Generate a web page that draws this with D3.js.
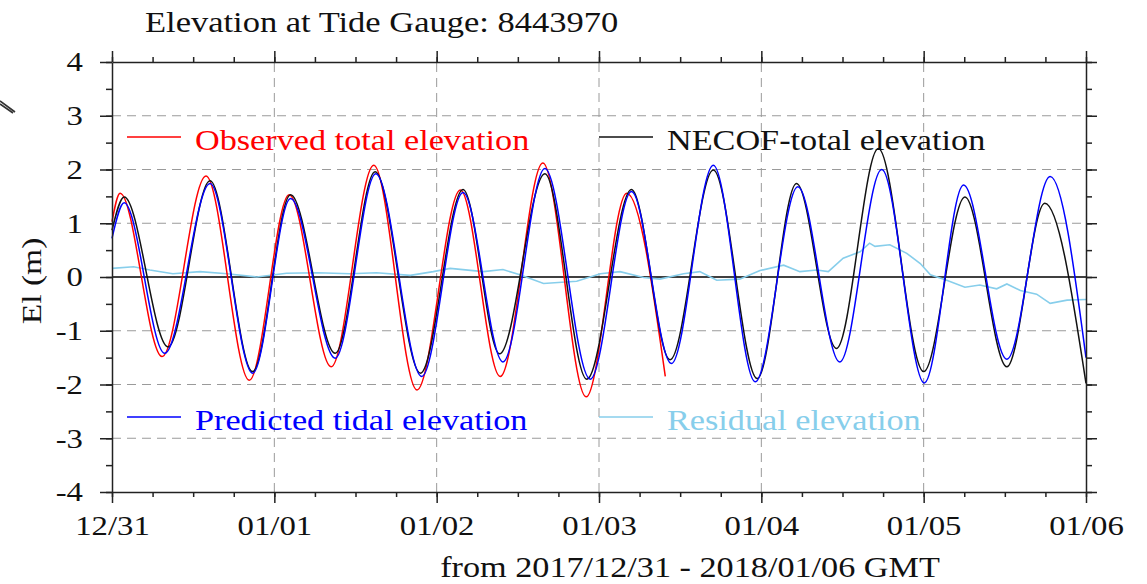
<!DOCTYPE html>
<html>
<head>
<meta charset="utf-8">
<script src="https://cdn.jsdelivr.net/npm/d3@7"></script>
<style>
  body { margin: 0; background: #fff; }
  svg { display: block; font-family: "Liberation Serif", "DejaVu Serif", serif; }
</style>
</head>
<body>
<svg id="chart" width="1147" height="584"></svg>
<script>
// hours since 2017-12-31 00:00 GMT, and elevation (m)
const obsHours  = [0, 1.2, 7.4, 13.9, 20.3, 26.2, 32.4, 38.7, 45.1, 51.5, 57.4, 63.7, 70.1, 76.1, 81.8];
const obsElev   = [1.03, 1.56, -1.48, 1.88, -1.92, 1.53, -1.67, 2.08, -2.10, 1.62, -1.85, 2.12, -2.23, 1.56, -1.85];

const modHours  = [0, 1.8, 8.3, 14.5, 20.8, 26.4, 33.0, 38.9, 45.6, 51.9, 57.3, 64.0, 70.2, 76.8, 82.5, 88.9, 95.4, 101.2, 107.1, 113.3, 120.0, 126.1, 132.3, 137.9, 144];
const modElev   = [0.87, 1.49, -1.30, 1.79, -1.76, 1.53, -1.42, 1.96, -1.79, 1.63, -1.43, 1.92, -1.90, 1.63, -1.54, 1.99, -1.89, 1.74, -1.33, 2.39, -1.76, 1.49, -1.67, 1.37, -1.98];

const predHours = [0, 1.8, 7.8, 14.5, 20.8, 26.4, 33.0, 39.0, 45.8, 51.9, 57.8, 64.0, 70.7, 76.8, 82.7, 88.9, 95.1, 101.4, 107.6, 113.8, 120.1, 125.9, 132.3, 138.7, 144];
const predElev  = [0.72, 1.38, -1.42, 1.74, -1.79, 1.46, -1.51, 1.92, -1.85, 1.57, -1.58, 2.02, -1.90, 1.59, -1.61, 2.08, -1.95, 1.68, -1.58, 2.00, -1.97, 1.71, -1.53, 1.87, -1.50];

const resHours  = [0, 3.2, 5.6, 9.0, 13.0, 17.0, 21.4, 25.8, 30.3, 35.2, 39.1, 44.1, 47.5, 50.0, 54.9, 57.8, 60.3, 63.8, 68.7, 72.2, 75.1, 78.6, 81.0, 84.5, 86.9, 89.4, 92.8, 95.8, 99.3, 101.7, 104.2, 105.9, 108.1, 110.6, 112.0, 112.8, 115.0, 117.5, 119.5, 121.0, 123.4, 126.1, 128.3, 130.8, 132.3, 134.3, 136.7, 138.7, 141.2, 144];
const resElev   = [0.16, 0.19, 0.13, 0.06, 0.10, 0.06, 0.00, 0.07, 0.08, 0.06, 0.08, 0.03, 0.10, 0.16, 0.10, 0.14, 0.04, -0.12, -0.08, 0.06, 0.10, -0.01, -0.04, 0.06, 0.10, -0.06, -0.04, 0.12, 0.22, 0.10, 0.13, 0.10, 0.35, 0.47, 0.63, 0.57, 0.60, 0.44, 0.25, 0.04, -0.06, -0.19, -0.15, -0.22, -0.13, -0.25, -0.32, -0.49, -0.43, -0.42];

const yTicks = [-4, -3, -2, -1, 0, 1, 2, 3, 4];

const width = 1147, height = 584;
const margin = { top: 62, right: 61, bottom: 92, left: 112 };
const t0 = Date.UTC(2017, 11, 31);
const toDate = h => new Date(t0 + h * 3600e3);
const SX = 1.17; // the plot font runs wider than Liberation Serif

const svg = d3.select("#chart");

const x = d3.scaleUtc()
    .domain([toDate(0), toDate(144)])
    .range([margin.left, width - margin.right]);
const y = d3.scaleLinear()
    .domain([-4, 4])
    .range([height - margin.bottom, margin.top]);

// --- grid ---
const days = d3.utcDay.range(toDate(24), toDate(121));
const grid = svg.append("g").attr("stroke", "#9a9a9a").attr("stroke-dasharray", "9,6").attr("stroke-width", 1);
grid.selectAll(".vg").data(days).join("line")
    .attr("x1", d => x(d)).attr("x2", d => x(d))
    .attr("y1", y(-4)).attr("y2", y(4));
grid.selectAll(".hg").data(yTicks.filter(v => v !== 0 && Math.abs(v) < 4)).join("line")
    .attr("x1", x.range()[0]).attr("x2", x.range()[1])
    .attr("y1", d => y(d)).attr("y2", d => y(d));

// zero line
svg.append("line")
    .attr("x1", x.range()[0]).attr("x2", x.range()[1])
    .attr("y1", y(0)).attr("y2", y(0))
    .attr("stroke", "#000").attr("stroke-width", 1.3);

// --- series ---
const toPts = (hs, vs) => hs.map((h, i) => [toDate(h), vs[i]]);
const smooth = d3.line().x(d => x(d[0])).y(d => y(d[1])).curve(d3.curveMonotoneX);
const jagged = d3.line().x(d => x(d[0])).y(d => y(d[1]));

svg.append("path").datum(toPts(resHours, resElev))
    .attr("d", jagged).attr("fill", "none").attr("stroke", "#87ceeb").attr("stroke-width", 1.6);
svg.append("path").datum(toPts(obsHours, obsElev))
    .attr("d", smooth).attr("fill", "none").attr("stroke", "#ff0000").attr("stroke-width", 1.5);
svg.append("path").datum(toPts(modHours, modElev))
    .attr("d", smooth).attr("fill", "none").attr("stroke", "#111").attr("stroke-width", 1.5);
svg.append("path").datum(toPts(predHours, predElev))
    .attr("d", smooth).attr("fill", "none").attr("stroke", "#0000ff").attr("stroke-width", 1.5);

// --- axes ---
const minorX = d3.utcHour.every(6).range(toDate(0), toDate(144.1));
const minorY = d3.range(-4, 4.01, 0.5);

function styleAxis(g) {
    g.select(".domain").attr("stroke", "#222").attr("stroke-width", 1.5);
    g.selectAll(".tick line").attr("stroke", "#222").attr("stroke-width", 1.5);
    g.selectAll(".tick text").attr("font-size", "28px").attr("fill", "#111")
        .attr("font-family", "Liberation Serif, serif");
}

const axBottom = svg.append("g").attr("transform", `translate(0,${y(-4)})`);
axBottom.call(d3.axisBottom(x).tickValues(minorX).tickSize(5).tickFormat("").tickSizeOuter(0)).call(styleAxis);
axBottom.append("g").call(d3.axisBottom(x).ticks(d3.utcDay.every(1)).tickSize(11)
    .tickFormat(d3.utcFormat("%m/%d")).tickPadding(12).tickSizeOuter(0))
    .call(styleAxis).call(g => g.select(".domain").remove())
    .call(g => g.selectAll(".tick text").attr("transform", `scale(${SX},1)`));

const axTop = svg.append("g").attr("transform", `translate(0,${y(4)})`);
axTop.call(d3.axisTop(x).tickValues(minorX).tickSize(5).tickFormat("").tickSizeOuter(0)).call(styleAxis);
axTop.append("g").call(d3.axisTop(x).ticks(d3.utcDay.every(1)).tickSize(11).tickFormat("").tickSizeOuter(0))
    .call(styleAxis).call(g => g.select(".domain").remove());

const axLeft = svg.append("g").attr("transform", `translate(${x.range()[0]},0)`);
axLeft.call(d3.axisLeft(y).tickValues(minorY).tickSize(6).tickFormat("").tickSizeOuter(0)).call(styleAxis);
axLeft.append("g").call(d3.axisLeft(y).tickValues(yTicks).tickSize(12).tickPadding(17)
    .tickFormat(d => d < 0 ? "-" + Math.abs(d) : String(d)).tickSizeOuter(0))
    .call(styleAxis).call(g => g.select(".domain").remove())
    .call(g => g.selectAll(".tick text").each(function() {
        const t = d3.select(this), tx = +t.attr("x");
        t.attr("x", 0).attr("transform", `translate(${tx},0) scale(${SX},1)`);
    }));

const axRight = svg.append("g").attr("transform", `translate(${x.range()[1]},0)`);
axRight.call(d3.axisRight(y).tickValues(minorY).tickSize(6).tickFormat("").tickSizeOuter(0)).call(styleAxis);
axRight.append("g").call(d3.axisRight(y).tickValues(yTicks).tickSize(11).tickFormat("").tickSizeOuter(0))
    .call(styleAxis).call(g => g.select(".domain").remove());

// --- text helper ---
function label(tx, ty, str, size, color, anchor, sx, rot) {
    return svg.append("text")
        .attr("transform", `translate(${tx},${ty})${rot ? ` rotate(${rot})` : ""} scale(${sx},1)`)
        .attr("text-anchor", anchor)
        .attr("font-size", size + "px").attr("fill", color)
        .text(str);
}

// --- legend ---
const legend = [
    { name: "Observed total elevation", color: "#ff0000", lx: 127, ly: 137 },
    { name: "NECOF-total elevation", color: "#111", lx: 599, ly: 137 },
    { name: "Predicted tidal elevation", color: "#0000ff", lx: 127, ly: 417 },
    { name: "Residual elevation", color: "#87ceeb", lx: 599, ly: 417 }
];
legend.forEach(d => {
    svg.append("line").attr("x1", d.lx).attr("x2", d.lx + 54)
        .attr("y1", d.ly).attr("y2", d.ly)
        .attr("stroke", d.color).attr("stroke-width", 1.3);
    label(d.lx + 68, d.ly + 13, d.name, 29, d.color, "start", 1.18);
});

// --- titles ---
label(145, 32, "Elevation at Tide Gauge: 8443970", 30, "#111", "start", 1.15);
label(41, 281, "El (m)", 28, "#111", "middle", 1.2, -90);
label(690, 577, "from 2017/12/31 - 2018/01/06 GMT", 29, "#111", "middle", 1.18);

// stray mark at the left edge
svg.append("path").attr("d", "M0,101 L15,112 M0,104 L13,113")
    .attr("stroke", "#333").attr("stroke-width", 1.6).attr("fill", "none");
</script>
</body>
</html>
